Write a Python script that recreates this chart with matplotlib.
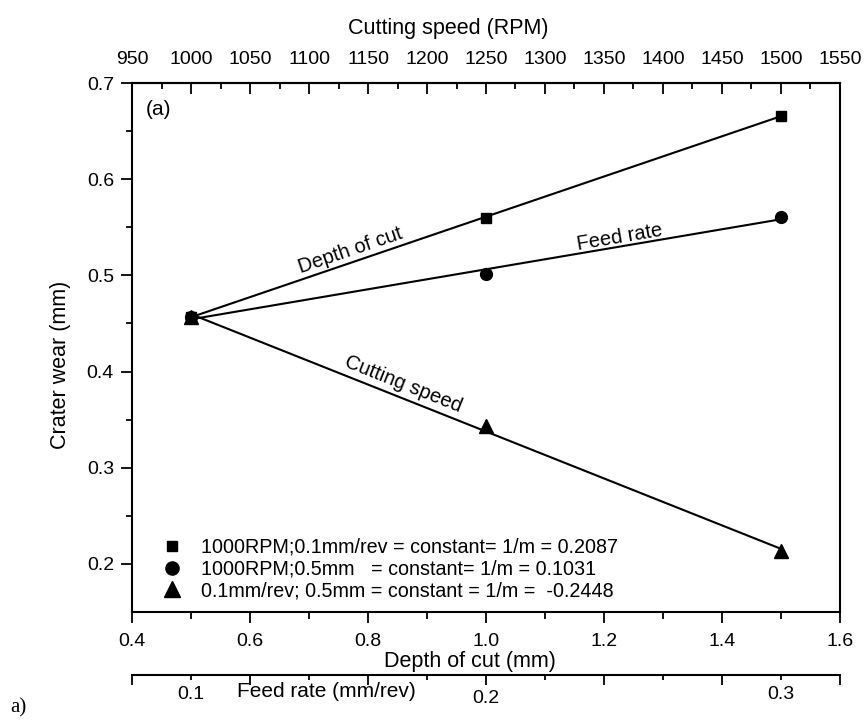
import matplotlib
matplotlib.use('Agg')
import matplotlib.pyplot as plt
from matplotlib.lines import Line2D
import numpy as np

# data
depth = [0.5, 1.0, 1.5]
wear_doc = [0.457, 0.560, 0.666]     # depth of cut varied (squares)
wear_feed = [0.457, 0.501, 0.561]    # feed rate varied (circles)
wear_speed = [0.457, 0.343, 0.213]   # cutting speed varied (triangles)

legend_labels = [
    '1000RPM;0.1mm/rev = constant= 1/m = 0.2087',
    '1000RPM;0.5mm   = constant= 1/m = 0.1031',
    '0.1mm/rev; 0.5mm = constant = 1/m =  -0.2448',
]
curve_names = ['Depth of cut', 'Feed rate', 'Cutting speed']
rpm_ticks = np.arange(950, 1551, 50)
rpm_minor = np.arange(975, 1550, 50)
feed_major = [0.08, 0.12, 0.16, 0.2, 0.24, 0.28, 0.32]
feed_minor = [0.10, 0.14, 0.18, 0.22, 0.26, 0.30]

plt.rcParams['font.family'] = ['Liberation Sans', 'DejaVu Sans']

fig = plt.figure(figsize=(8.64, 7.2), dpi=100)
ax = fig.add_axes([0.1528, 0.15, 0.8194, 0.7347])
ax.set_xlim(0.4, 1.6)
ax.set_ylim(0.15, 0.7)

for s in ax.spines.values():
    s.set_linewidth(1.5)

# fitted lines + markers
series = [wear_doc, wear_feed, wear_speed]
markers = ['s', 'o', '^']
msizes = [7.5, 8.5, 10]
xx = np.array([0.5, 1.5])
fits = []
for ys, m, ms in zip(series, markers, msizes):
    k, b = np.polyfit(depth, ys, 1)
    fits.append((k, b))
    ax.plot(xx, k * xx + b, color='black', lw=1.5, zorder=2)
    ax.plot(depth, ys, linestyle='none', marker=m, ms=ms, color='black', zorder=3)

# curve labels along lines
label_x = [0.775, 1.229, 0.854]
label_off = [0.003, 0.0, 0.004]
for name, (k, b), lx, off in zip(curve_names, fits, label_x, label_off):
    p1 = ax.transData.transform((0.5, k * 0.5 + b))
    p2 = ax.transData.transform((1.5, k * 1.5 + b))
    ang = np.degrees(np.arctan2(p2[1] - p1[1], p2[0] - p1[0]))
    ax.text(lx, k * lx + b + off, name, rotation=ang, rotation_mode='anchor',
            ha='center', va='bottom', fontsize=14.5)

ax.text(0.038, 0.95, '(a)', transform=ax.transAxes, ha='center', va='center', fontsize=15)

# legend
handles = [Line2D([], [], linestyle='none', marker=m, ms=ms, color='black')
           for m, ms in zip(markers, [7.5, 9.5, 11])]
ax.legend(handles, legend_labels, loc='lower left', bbox_to_anchor=(0.045, 0.022),
          frameon=False, fontsize=14.2, handlelength=0.8, handletextpad=1.1,
          labelspacing=0.15, borderpad=0, borderaxespad=0)

# bottom axis: depth of cut
ax.set_xticks(np.arange(0.4, 1.61, 0.2))
ax.set_xticks(np.arange(0.5, 1.6, 0.2), minor=True)
ax.set_xticklabels(['0.4', '0.6', '0.8', '1.0', '1.2', '1.4', '1.6'], fontsize=14)
ax.set_xlabel('Depth of cut (mm)', fontsize=15.5, labelpad=0)
ax.xaxis.set_label_coords(0.478, -0.074)
ax.tick_params(axis='x', which='major', direction='out', length=8, width=1.3, pad=7, top=False)
ax.tick_params(axis='x', which='minor', direction='out', length=5, width=1.3, top=False)

# left axis
ax.set_yticks([0.2, 0.3, 0.4, 0.5, 0.6, 0.7])
ax.set_yticks([0.25, 0.35, 0.45, 0.55, 0.65], minor=True)
ax.set_yticklabels(['0.2', '0.3', '0.4', '0.5', '0.6', '0.7'], fontsize=14)
ax.set_ylabel('Crater wear (mm)', fontsize=15.5)
ax.yaxis.set_label_coords(-0.086, 0.467)
ax.tick_params(axis='y', which='major', direction='out', length=8, width=1.3, pad=5, right=False)
ax.tick_params(axis='y', which='minor', direction='out', length=4.5, width=1.3, right=False)

# top axis: cutting speed
top = ax.secondary_xaxis('top', functions=(lambda d: 500 * d + 750, lambda r: (r - 750) / 500))
top.set_xticks(rpm_ticks)
top.set_xticks(rpm_minor, minor=True)
top.set_xticklabels([str(v) for v in rpm_ticks], fontsize=14)
top.set_xlabel('Cutting speed (RPM)', fontsize=15.5, labelpad=12)
top.xaxis.label.set_x(0.446)
top.tick_params(axis='x', which='major', direction='in', length=7.7, width=1.3, pad=11)
top.tick_params(axis='x', which='minor', direction='in', length=4, width=1.3)
top.spines['top'].set_linewidth(1.5)

# third axis: feed rate
feed = ax.secondary_xaxis(-0.119, functions=(lambda d: 0.2 * d, lambda f: f / 0.2))
feed.set_xticks(feed_major, labels=['', '', '', '0.2', '', '', ''])
feed.set_xticks(feed_minor, labels=['0.1', '', '', '', '', '0.3'], minor=True)
feed.tick_params(axis='x', which='major', direction='out', length=7, width=1.3, pad=4,
                 labelsize=14)
feed.tick_params(axis='x', which='minor', direction='out', length=3.6, width=1.3, pad=4,
                 labelsize=14)
feed.spines['bottom'].set_linewidth(1.5)
ax.text(0.73, -0.151, 'Feed rate (mm/rev)', transform=ax.get_xaxis_transform(),
        ha='center', va='center', fontsize=15)

fig.text(0.012, 0.0167, 'a)', family=['Liberation Serif', 'DejaVu Serif'], fontsize=15,
         ha='left', va='center')

fig.savefig('out.png', dpi=100)
